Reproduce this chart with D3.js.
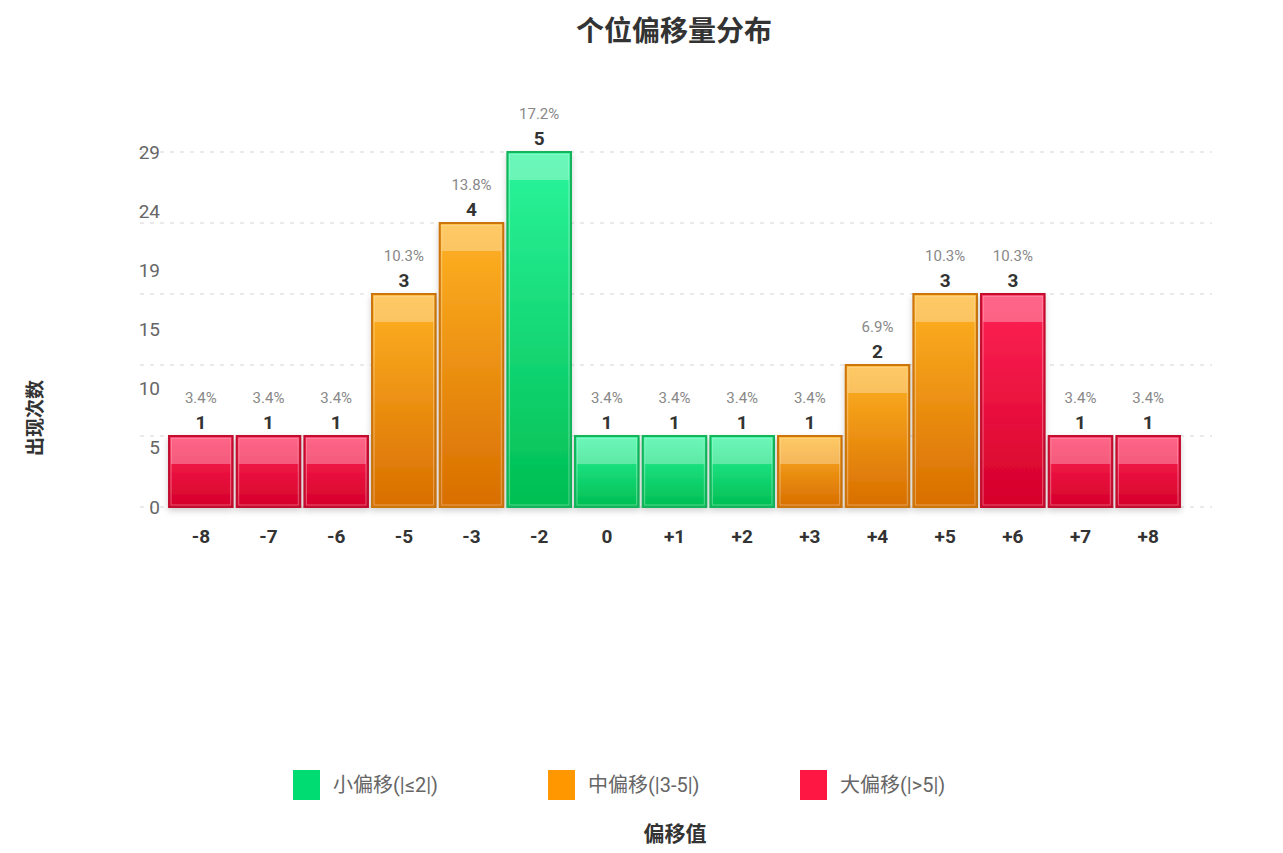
<!DOCTYPE html>
<html>
<head>
<meta charset="utf-8">
<script src="https://cdn.jsdelivr.net/npm/d3@7"></script>
<style>
  body { margin: 0; background: #fff; }
  svg { font-family: Roboto, "Noto Sans CJK SC", sans-serif; }
</style>
</head>
<body>
<svg id="chart" width="1283" height="853"></svg>
<script>
// data
const offsets = ['-8', '-7', '-6', '-5', '-3', '-2', '0', '+1', '+2', '+3', '+4', '+5', '+6', '+7', '+8'];
const counts = [1, 1, 1, 3, 4, 5, 1, 1, 1, 1, 2, 3, 3, 1, 1];
const groups = ['large', 'large', 'large', 'mid', 'mid', 'small', 'small', 'small', 'small', 'mid', 'mid', 'mid', 'large', 'large', 'large'];
const yTickLabels = [0, 5, 10, 15, 19, 24, 29];
const legendNames = ['小偏移(|≤2|)', '中偏移(|3-5|)', '大偏移(|>5|)'];
const legendKeys = ['small', 'mid', 'large'];

const palette = {
  small: { top: '#2cf59c', bottom: '#00be52', stroke: '#12b45a', legend: '#00dc72' },
  mid:   { top: '#ffb324', bottom: '#d86e00', stroke: '#cc7410', legend: '#ff9800' },
  large: { top: '#ff2455', bottom: '#d5002a', stroke: '#c2102f', legend: '#ff1744' }
};

const total = d3.sum(counts);
const data = offsets.map((o, i) => ({ offset: o, count: counts[i], group: groups[i] }));

const svg = d3.select('#chart');
const baseY = 507, topY = 152;

const x = d3.scaleBand()
  .domain(offsets)
  .range([167, 1182])
  .paddingInner(0.06)
  .paddingOuter(0.03);

const y = d3.scaleLinear()
  .domain([0, d3.max(counts)])
  .range([baseY, topY]);

// label scale for the left axis (0..total, 6 intervals)
const yLabel = d3.scaleLinear()
  .domain([0, total])
  .range([baseY, topY]);

const defs = svg.append('defs');
Object.entries(palette).forEach(([k, c]) => {
  const g = defs.append('linearGradient')
    .attr('id', `grad-${k}`)
    .attr('x1', 0).attr('y1', 0).attr('x2', 0).attr('y2', 1);
  g.append('stop').attr('offset', '0%').attr('stop-color', c.top);
  g.append('stop').attr('offset', '100%').attr('stop-color', c.bottom);
});
const shadow = defs.append('filter')
  .attr('id', 'shadow')
  .attr('x', '-20%').attr('y', '-20%')
  .attr('width', '140%').attr('height', '140%');
shadow.append('feDropShadow')
  .attr('dx', 0).attr('dy', 3)
  .attr('stdDeviation', 3)
  .attr('flood-color', '#000')
  .attr('flood-opacity', 0.18);

// title
svg.append('text')
  .attr('x', 674)
  .attr('y', 41)
  .attr('text-anchor', 'middle')
  .attr('font-family', '"Noto Sans CJK SC", sans-serif')
  .attr('font-size', '28px')
  .attr('font-weight', 'bold')
  .attr('fill', '#333')
  .text('个位偏移量分布');

// gridlines
svg.append('g')
  .selectAll('line')
  .data(y.ticks(5))
  .join('line')
    .attr('x1', 140)
    .attr('x2', 1212)
    .attr('y1', d => y(d))
    .attr('y2', d => y(d))
    .attr('stroke', '#e3e3e3')
    .attr('stroke-width', 1.5)
    .attr('stroke-dasharray', '4,6');

// left axis labels
const yAxis = d3.axisLeft(yLabel)
  .tickValues(yTickLabels.map((v, i) => total * i / (yTickLabels.length - 1)))
  .tickFormat((d, i) => yTickLabels[i])
  .tickSize(0)
  .tickPadding(0);
svg.append('g')
  .attr('transform', 'translate(160, 0)')
  .call(yAxis)
  .call(g => g.select('.domain').remove())
  .call(g => g.selectAll('text')
    .attr('font-family', 'Roboto, sans-serif')
    .attr('font-size', '19px')
    .attr('fill', '#666'));

// bars
const bars = svg.append('g')
  .selectAll('g')
  .data(data)
  .join('g');

bars.append('rect')
  .attr('x', d => x(d.offset))
  .attr('y', d => y(d.count))
  .attr('width', x.bandwidth())
  .attr('height', d => baseY - y(d.count))
  .attr('fill', d => `url(#grad-${d.group})`)
  .attr('stroke', d => palette[d.group].stroke)
  .attr('stroke-width', 2)
  .attr('filter', 'url(#shadow)');

// inner light edge
bars.append('rect')
  .attr('x', d => x(d.offset) + 2)
  .attr('y', d => y(d.count) + 2)
  .attr('width', x.bandwidth() - 4)
  .attr('height', d => baseY - y(d.count) - 4)
  .attr('fill', 'none')
  .attr('stroke', '#fff')
  .attr('stroke-opacity', 0.35)
  .attr('stroke-width', 1);

// top gloss band
bars.append('rect')
  .attr('x', d => x(d.offset) + 2)
  .attr('y', d => y(d.count) + 2)
  .attr('width', x.bandwidth() - 4)
  .attr('height', 26)
  .attr('fill', '#fff')
  .attr('fill-opacity', 0.3);

// value labels
bars.append('text')
  .attr('x', d => x(d.offset) + x.bandwidth() / 2)
  .attr('y', d => y(d.count) - 7)
  .attr('text-anchor', 'middle')
  .attr('font-size', '19px')
  .attr('font-weight', 'bold')
  .attr('fill', '#333')
  .text(d => d.count);

bars.append('text')
  .attr('x', d => x(d.offset) + x.bandwidth() / 2)
  .attr('y', d => y(d.count) - 33)
  .attr('text-anchor', 'middle')
  .attr('font-size', '15px')
  .attr('fill', '#888')
  .text(d => `${(d.count / total * 100).toFixed(1)}%`);

// bottom axis labels
const xAxis = d3.axisBottom(x).tickSize(0).tickPadding(0);
svg.append('g')
  .attr('transform', `translate(0, ${baseY})`)
  .call(xAxis)
  .call(g => g.select('.domain').remove())
  .call(g => g.selectAll('text')
    .attr('y', 36)
    .attr('dy', 0)
    .attr('font-family', 'Roboto, sans-serif')
    .attr('font-size', '19px')
    .attr('font-weight', 'bold')
    .attr('fill', '#333'));

// y title
svg.append('text')
  .attr('transform', 'translate(42, 418) rotate(-90)')
  .attr('text-anchor', 'middle')
  .attr('font-family', '"Noto Sans CJK SC", sans-serif')
  .attr('font-size', '19px')
  .attr('font-weight', 'bold')
  .attr('fill', '#333')
  .text('出现次数');

// legend
const legendX = [293, 548, 800];
const legend = svg.append('g')
  .selectAll('g')
  .data(legendKeys)
  .join('g')
    .attr('transform', (d, i) => `translate(${legendX[i]}, 770)`);
legend.append('rect')
  .attr('width', 27)
  .attr('height', 30)
  .attr('fill', d => palette[d].legend);
legend.append('text')
  .attr('x', 40)
  .attr('y', 22)
  .attr('font-family', 'Roboto, "Noto Sans CJK SC", sans-serif')
  .attr('font-size', '20px')
  .attr('fill', '#666')
  .text((d, i) => legendNames[i]);

// x title
svg.append('text')
  .attr('x', 675)
  .attr('y', 841)
  .attr('text-anchor', 'middle')
  .attr('font-family', '"Noto Sans CJK SC", sans-serif')
  .attr('font-size', '21px')
  .attr('font-weight', 'bold')
  .attr('fill', '#333')
  .text('偏移值');
</script>
</body>
</html>
